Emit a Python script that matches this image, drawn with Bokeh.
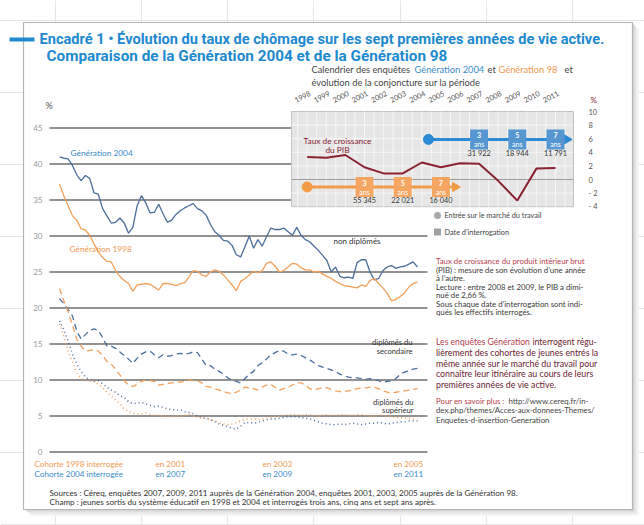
import numpy as np
from bokeh.plotting import figure
from bokeh.models import Range1d
from bokeh.core.properties import value
from bokeh.embed import file_html
from bokeh.resources import INLINE

# ---------------- data ----------------
months = list(range(1, 85))
g2004_non_dipl = [41.0, 40.8, 40.7, 39.8, 38.5, 37.7, 38.4, 38.0, 36.0, 35.8, 33.8, 32.8, 31.8, 31.9, 32.5, 31.8, 30.4, 31.2, 34.2, 35.6,
                  34.6, 33.2, 33.3, 34.4, 33.1, 31.9, 32.2, 33.0, 33.5, 33.9, 34.2, 34.5, 33.8, 33.5, 32.9, 31.6, 30.6, 30.1, 29.4, 29.3,
                  28.7, 27.4, 27.1, 28.5, 30.0, 28.3, 29.5, 28.6, 29.9, 31.1, 30.9, 30.9, 31.1, 30.6, 30.1, 31.2, 30.1, 29.5, 29.2, 28.6,
                  28.0, 27.3, 26.6, 25.0, 25.7, 24.4, 24.2, 24.3, 24.1, 26.3, 26.7, 26.7, 25.0, 23.9, 24.1, 25.2, 25.7, 25.9, 25.5, 25.7,
                  25.8, 26.1, 26.4, 25.7]
g1998_non_dipl = [37.2, 35.6, 34.2, 32.8, 32.2, 31.0, 30.8, 30.1, 28.9, 27.8, 27.0, 26.5, 26.4, 25.2, 24.4, 23.8, 23.4, 22.3, 23.2, 23.3,
                  23.4, 23.3, 22.9, 22.5, 23.4, 23.4, 23.3, 23.1, 23.4, 23.5, 24.3, 25.2, 25.1, 24.6, 24.4, 25.0, 25.3, 25.1, 24.6, 23.9,
                  23.2, 22.4, 23.7, 24.1, 24.6, 25.1, 24.9, 25.2, 26.2, 26.4, 25.8, 25.0, 25.2, 25.7, 26.2, 26.1, 25.6, 25.3, 25.3, 25.0,
                  25.1, 24.7, 24.4, 24.1, 23.7, 23.4, 23.1, 23.0, 22.9, 22.8, 23.2, 23.0, 23.8, 24.1, 23.4, 22.8, 22.0, 21.0, 21.2, 21.6,
                  22.1, 22.9, 23.4, 23.6]
g2004_secondaire = [21.3, 20.6, 19.8, 18.9, 16.8, 15.7, 16.3, 16.9, 17.1, 16.9, 15.9, 14.7, 14.7, 14.4, 13.9, 13.4, 12.9, 12.3, 13.0, 13.6,
                    13.9, 14.0, 13.5, 13.1, 13.5, 13.3, 13.4, 13.6, 13.7, 13.6, 13.7, 13.9, 13.8, 12.9, 12.0, 12.0, 11.5, 11.2, 10.8, 10.3,
                    10.0, 9.8, 9.6, 10.2, 10.8, 11.2, 12.0, 12.4, 12.9, 13.5, 13.8, 14.1, 14.0, 13.6, 13.5, 13.6, 13.4, 13.1, 12.8, 12.4,
                    12.0, 11.8, 11.6, 11.4, 11.2, 10.8, 10.6, 10.4, 10.3, 10.3, 10.2, 10.1, 10.2, 10.1, 9.9, 9.7, 9.8, 9.9, 10.2, 10.8,
                    11.1, 11.3, 11.5, 11.6]
g1998_secondaire = [22.7, 21.0, 19.5, 17.6, 15.7, 14.7, 14.0, 14.1, 14.2, 14.0, 13.4, 12.6, 12.2, 11.5, 10.7, 9.9, 9.3, 9.1, 9.4, 9.8,
                    10.0, 9.9, 9.8, 9.3, 9.4, 9.5, 9.6, 9.7, 9.7, 9.8, 10.0, 9.9, 9.9, 9.6, 9.1, 9.0, 8.8, 8.6, 8.4, 8.2,
                    8.1, 8.3, 8.6, 9.0, 8.9, 8.8, 8.6, 9.0, 9.3, 9.4, 9.0, 8.6, 8.8, 9.0, 9.3, 9.6, 9.6, 9.3, 8.8, 8.6,
                    8.8, 8.9, 8.9, 8.7, 8.5, 8.4, 8.4, 8.5, 8.6, 8.8, 8.9, 8.9, 9.0, 9.0, 8.8, 8.5, 8.3, 8.2, 8.3, 8.4,
                    8.5, 8.6, 8.7, 8.8]
g2004_superieur = [18.2, 17.0, 15.4, 13.6, 12.2, 11.2, 10.4, 10.0, 9.8, 9.9, 9.5, 9.0, 8.6, 8.3, 7.8, 7.6, 7.0, 6.7, 6.8, 6.9,
                   6.7, 6.5, 6.3, 6.4, 6.2, 6.0, 5.9, 5.8, 5.9, 5.6, 5.5, 5.3, 5.0, 4.8, 4.7, 4.5, 4.2, 3.9, 3.7, 3.5,
                   3.3, 3.2, 3.6, 4.1, 4.1, 4.0, 4.1, 4.3, 4.5, 4.6, 4.6, 4.7, 4.8, 4.9, 4.9, 4.9, 4.8, 4.7, 4.6, 4.4,
                   4.2, 4.0, 3.9, 3.8, 3.8, 3.9, 3.8, 3.9, 4.0, 3.9, 3.8, 3.9, 4.0, 4.0, 4.1, 4.0, 3.9, 4.0, 4.1, 4.2,
                   4.2, 4.3, 4.3, 4.3]
g1998_superieur = [17.8, 16.0, 14.0, 12.5, 11.0, 10.2, 9.9, 9.9, 9.8, 9.4, 8.9, 8.3, 7.8, 7.2, 6.7, 6.0, 5.6, 5.4, 5.3, 5.3,
                   5.4, 5.2, 5.1, 5.1, 5.0, 5.0, 4.9, 5.0, 5.0, 5.1, 5.2, 5.0, 4.8, 4.7, 4.6, 4.5, 4.3, 4.1, 3.9, 3.8,
                   3.9, 4.1, 4.3, 4.5, 4.6, 4.6, 4.5, 4.6, 4.7, 4.8, 4.9, 5.0, 5.1, 5.2, 5.2, 5.2, 5.1, 5.2, 5.2, 5.1,
                   5.0, 5.1, 5.2, 5.1, 5.1, 5.2, 5.2, 5.1, 5.1, 5.2, 5.2, 5.1, 5.0, 5.0, 5.1, 5.1, 5.0, 4.9, 4.8, 4.8,
                   4.7, 4.7, 4.6, 4.6]
y_ticks = [0, 5, 10, 15, 20, 25, 30, 35, 40, 45]
y_tick_labels = ["0", "5", "10", "15", "20", "25", "30", "35", "40", "45"]

gdp_years = list(range(1998, 2012))
gdp_growth = [3.3, 3.2, 3.6, 1.8, 0.9, 0.9, 2.5, 1.8, 2.4, 2.3, -0.2, -3.1, 1.6, 1.7]
gdp_ticks = [-4, -2, 0, 2, 4, 6, 8, 10]
gdp_tick_labels = ["- 4", "- 2", "0", "2", "4", "6", "8", "10"]
year_labels = [str(y) for y in gdp_years]

entry_98, entry_2004 = 1998.0, 2004.35
surveys_98 = [2001, 2003, 2005]
counts_98 = ["55 345", "22 021", "16 040"]
surveys_2004 = [2007, 2009, 2011]
counts_2004 = ["31 922", "18 944", "11 791"]
survey_ages = ["3", "5", "7"]

bottom_98 = ["Cohorte 1998 interrogée", "en 2001", "en 2003", "en 2005"]
bottom_04 = ["Cohorte 2004 interrogée", "en 2007", "en 2009", "en 2011"]

# ---------------- layout calibration (image pixels) ----------------
W, H = 644, 525
OX, OY = 0, 0
PXM, X0 = 4.313, 59.0        # main: pixels per month, x of month 1
PYV, Y0 = 7.2, 451.5         # main: pixels per %, y of 0 %
PXY, XY0 = 19.1, 306.7       # inset: pixels per year, x of 1998
PYG, YG0 = 6.8, 179.0        # inset: pixels per % GDP, y of 0

def m_of(X): return 1 + (X - X0) / PXM
def v_of(Y): return (Y0 - Y) / PYV
def yr_of(X): return 1998 + (X - XY0) / PXY
def g_of(Y): return (YG0 - Y) / PYG

p = figure(width=W, height=H, output_backend="svg", toolbar_location=None,
           x_axis_location=None, y_axis_location=None, min_border=0,
           x_range=Range1d(m_of(OX), m_of(OX + W)),
           y_range=Range1d(v_of(OY + H), v_of(OY)))
p.extra_x_ranges = {"px": Range1d(OX, OX + W), "yr": Range1d(yr_of(OX), yr_of(OX + W))}
p.extra_y_ranges = {"px": Range1d(OY + H, OY), "gdp": Range1d(g_of(OY + H), g_of(OY))}
p.outline_line_color = None
p.background_fill_color = "white"
p.border_fill_color = "white"
p.min_border_left = p.min_border_right = p.min_border_top = p.min_border_bottom = 0

FONT = "Lato"

def txt(x, y, s, size=8, color="#333333", align="left", baseline="middle", font=FONT,
        style="normal", angle=0.0, xr="px", yr="px"):
    p.text(x=[x], y=[y], text=[s], x_range_name=xr, y_range_name=yr,
           text_font=value(font), text_font_size=f"{size}px", text_color=color,
           text_align=align, text_baseline=baseline, text_font_style=style, angle=angle)

BLUE_T = "#2089cf"
BLUE_L = "#4b6e9b"
ORANGE_L = "#f2a05a"
BLUE_LBL = "#3a8bc9"
ORANGE_LBL = "#ee9a50"
RED = "#8b2232"
RED2 = "#b8404e"

# ---------------- frame box with shadow ----------------
for off, col in [(6, "#f2f2f2"), (4, "#e6e6e6"), (2, "#d6d6d6")]:
    p.quad(left=[24 + off], right=[632 + off], top=[22 + off], bottom=[509 + off],
           x_range_name="px", y_range_name="px", fill_color=col, line_color=None)
p.quad(left=[23], right=[632], top=[22], bottom=[509], x_range_name="px", y_range_name="px",
       fill_color="white", line_color="#b5b5b5", line_width=1.2)

# title
p.quad(left=[9], right=[34], top=[37], bottom=[41], x_range_name="px", y_range_name="px",
       fill_color=BLUE_T, line_color=None)
txt(39, 38.5, "Encadré 1 • Évolution du taux de chômage sur les sept premières années de vie active.",
    size=14.6, color=BLUE_T, style="bold", font="Roboto")
txt(46, 55, "Comparaison de la Génération 2004 et de la Génération 98",
    size=15.3, color=BLUE_T, style="bold", font="Roboto")

# ---------------- main chart ----------------
grid_m0, grid_m1 = m_of(49), m_of(427)
p.segment(x0=[grid_m0] * len(y_ticks), x1=[grid_m1] * len(y_ticks), y0=y_ticks, y1=y_ticks,
          line_color="#6e6e6e", line_width=1.3)
p.text(x=[42] * len(y_ticks), y=y_ticks, text=y_tick_labels, x_range_name="px",
       text_font=value(FONT), text_font_size="8px", text_color="#9a9a9a",
       text_align="right", text_baseline="middle")
txt(45, 105, "%", size=9, color="#555555")

p.line(months, g2004_non_dipl, line_color=BLUE_L, line_width=1.3)
p.line(months, g1998_non_dipl, line_color=ORANGE_L, line_width=1.3)
p.line(months, g2004_secondaire, line_color=BLUE_L, line_width=1.3, line_dash="6 4")
p.line(months, g1998_secondaire, line_color=ORANGE_L, line_width=1.3, line_dash="6 4")
p.line(months, g2004_superieur, line_color=BLUE_L, line_width=1.5, line_dash="1 3")
p.line(months, g1998_superieur, line_color=ORANGE_L, line_width=1.5, line_dash="1 3")

txt(70, 152.5, "Génération 2004", size=8.3, color=BLUE_LBL)
txt(69, 248, "Génération 1998", size=8.3, color=ORANGE_LBL)
txt(333, 240.5, "non diplômés", size=8, color="#333333")
txt(412, 341.5, "diplômés du", size=7.6, color="#333333", align="right")
txt(412, 350, "secondaire", size=7.6, color="#333333", align="right")
txt(413, 401.5, "diplômés du", size=7.6, color="#333333", align="right")
txt(413, 409.5, "supérieur", size=7.6, color="#333333", align="right")

for xx, s in zip([34, 155, 262, 393], bottom_98):
    txt(xx, 463, s, size=8.1, color=ORANGE_LBL)
for xx, s in zip([34, 155, 262, 393], bottom_04):
    txt(xx, 473, s, size=8.1, color=BLUE_LBL)

txt(49, 492, "Sources : Céreq, enquêtes 2007, 2009, 2011 auprès de la Génération 2004, enquêtes 2001, 2003, 2005 auprès de la Génération 98.",
    size=8.1, color="#333333")
txt(49, 501.5, "Champ : jeunes sortis du système éducatif en 1998 et 2004 et interrogés trois ans, cinq ans et sept ans après.",
    size=8.1, color="#333333")

# ---------------- inset ----------------
txt(311, 68.5, "Calendrier des enquêtes", size=9.3, color="#444444")
txt(414, 68.5, "Génération 2004", size=9.3, color=BLUE_LBL)
txt(487, 68.5, "et", size=9.3, color="#444444")
txt(498, 68.5, "Génération 98", size=9.3, color=ORANGE_LBL)
txt(564, 68.5, "et", size=9.3, color="#444444")
txt(311, 81.5, "évolution de la conjoncture sur la période", size=9.3, color="#444444")

box_y0, box_y1 = yr_of(291), yr_of(573)
p.quad(left=[box_y0], right=[box_y1], top=[10], bottom=[-4], x_range_name="yr", y_range_name="gdp",
       fill_color="#e6e6e6", line_color="#c4c4c4", line_width=1)
vlines = [1997.5 + 0.5 * k for k in range(30) if box_y0 < 1997.5 + 0.5 * k < box_y1]
p.segment(x0=vlines, x1=vlines, y0=[-4] * len(vlines), y1=[10] * len(vlines),
          x_range_name="yr", y_range_name="gdp", line_color="#f7f7f7", line_width=1)
hl = [t for t in gdp_ticks if t not in (-4, 0, 10)]
p.segment(x0=[box_y0] * len(hl), x1=[box_y1] * len(hl), y0=hl, y1=hl,
          x_range_name="yr", y_range_name="gdp", line_color="#f7f7f7", line_width=1)
p.segment(x0=[box_y0], x1=[box_y1], y0=[0], y1=[0], x_range_name="yr", y_range_name="gdp",
          line_color="#9c9c9c", line_width=1.2)

p.text(x=[588] * len(gdp_ticks), y=gdp_ticks, text=gdp_tick_labels, x_range_name="px", y_range_name="gdp",
       text_font=value(FONT), text_font_size="7.5px", text_color="#555555", text_baseline="middle")
txt(590, 99, "%", size=8, color=RED)
p.text(x=[y - 0.25 for y in gdp_years], y=[96] * len(gdp_years), text=year_labels,
       x_range_name="yr", y_range_name="px", text_font=value(FONT), text_font_size="7.3px",
       text_color="#555555", text_align="center", text_baseline="middle", angle=0.48)

p.line(gdp_years, gdp_growth, x_range_name="yr", y_range_name="gdp", line_color=RED, line_width=2)
txt(337, 140, "Taux de croissance", size=8.3, color=RED, align="center")
txt(337, 149.5, "du PIB", size=8.3, color=RED, align="center")

# cohorts arrows
def cohort(entry, surveys, counts, yv, lc, bc, end):
    p.segment(x0=[entry], x1=[end], y0=[yv], y1=[yv], x_range_name="yr", y_range_name="gdp",
              line_color=lc, line_width=3)
    p.scatter(x=[end], y=[yv], marker="triangle", angle=-np.pi / 2, size=9, x_range_name="yr",
              y_range_name="gdp", fill_color=lc, line_color=lc)
    p.scatter(x=[entry], y=[yv], marker="circle", size=10, x_range_name="yr", y_range_name="gdp",
              fill_color=lc, line_color=lc)
    n = len(surveys)
    p.rect(x=surveys, y=[yv] * n, width=18, height=20, width_units="screen", height_units="screen",
           x_range_name="yr", y_range_name="gdp", fill_color=bc, line_color=None)
    p.text(x=surveys, y=[yv] * n, text=survey_ages, x_range_name="yr", y_range_name="gdp", y_offset=-4,
           text_font=value(FONT), text_font_size="7px", text_color="white", text_align="center",
           text_baseline="middle", text_font_style="bold")
    p.text(x=surveys, y=[yv] * n, text=["ans"] * n, x_range_name="yr", y_range_name="gdp", y_offset=5,
           text_font=value(FONT), text_font_size="7px", text_color="white", text_align="center",
           text_baseline="middle")
    p.text(x=surveys, y=[yv] * n, text=counts, x_range_name="yr", y_range_name="gdp", y_offset=14,
           text_font=value(FONT), text_font_size="7.3px", text_color="#333333", text_align="center",
           text_baseline="middle")

cohort(entry_2004, surveys_2004, counts_2004, 5.9, "#2c8ad4", "#5697d2", 2011.6)
cohort(entry_98, surveys_98, counts_98, -1.1, "#f29a45", "#f5a663", 2005.75)

# legend under inset
p.scatter(x=[437], y=[215], marker="circle", size=7, x_range_name="px", y_range_name="px",
          fill_color="#a8a8a8", line_color=None)
txt(444, 215, "Entrée sur le marché du travail", size=7.3, color="#444444")
p.scatter(x=[437], y=[231.5], marker="square", size=7, x_range_name="px", y_range_name="px",
          fill_color="#a0a0a0", line_color=None)
txt(444, 231.5, "Date d’interrogation", size=7.3, color="#444444")

# right paragraphs
TX = 435.5
txt(TX, 260, "Taux de croissance du produit intérieur brut", size=7.8, color=RED2)
for yy, s in zip([269, 277.5, 286, 294.5, 303, 311.5],
                 ["(PIB) : mesure de son évolution d’une année", "à l’autre.",
                  "Lecture : entre 2008 et 2009, le PIB a dimi-", "nué de 2,66 %.",
                  "Sous chaque date d’interrogation sont indi-", "qués les effectifs interrogés."]):
    txt(TX, yy, s, size=7.8, color="#3a3a3a")

txt(TX, 341.5, "Les enquêtes Génération", size=8.6, color=RED2)
txt(532, 341.5, "interrogent régu-", size=8.6, color="#6b2330")
for yy, s in zip([352, 362.5, 373, 383.5],
                 ["lièrement des cohortes de jeunes entrés la",
                  "même année sur le marché du travail pour",
                  "connaître leur itinéraire au cours de leurs",
                  "premières années de vie active."]):
    txt(TX, yy, s, size=8.8, color="#6b2330")

txt(TX, 400, "Pour en savoir plus :", size=7.8, color=RED2)
txt(508, 400, "http://www.cereq.fr/in-", size=7.8, color="#444444")
txt(TX, 409.5, "dex.php/themes/Acces-aux-donnees-Themes/", size=7.8, color="#444444")
txt(TX, 419, "Enquetes-d-insertion-Generation", size=7.8, color="#444444")

open("out.html", "w").write(file_html(p, INLINE))
